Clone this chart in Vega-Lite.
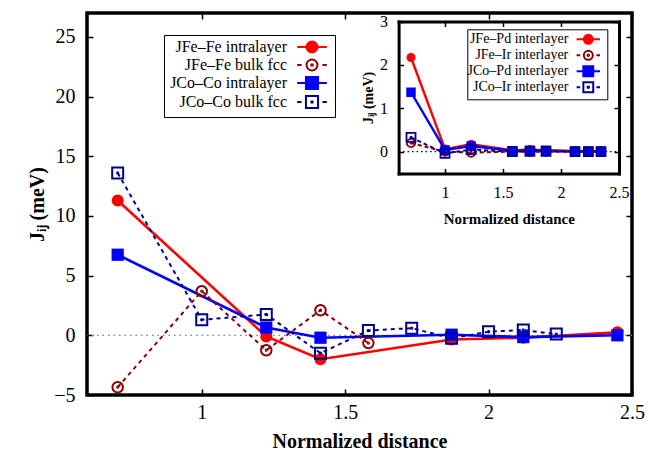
{
  "$schema": "https://vega.github.io/schema/vega-lite/v6.json",
  "width": 545,
  "height": 382,
  "autosize": "none",
  "padding": {"left": 87, "top": 13, "right": 17, "bottom": 59},
  "background": "white",
  "config": {
    "view": {"stroke": "black", "strokeWidth": 3.5},
    "font": "Liberation Serif",
    "axis": {
      "grid": false, "domain": false, "ticks": true, "tickColor": "black", "tickWidth": 1.5,
      "labelColor": "black", "titleColor": "black", "labelFont": "Liberation Serif", "titleFont": "Liberation Serif",
      "titleFontWeight": "bold", "labelFlush": false, "labelOverlap": false
    }
  },
  "datasets": {
    "main": [
      {"s": "JFe–Fe intralayer", "x": 0.707, "y": 11.3},
      {"s": "JFe–Fe intralayer", "x": 1.225, "y": -0.1},
      {"s": "JFe–Fe intralayer", "x": 1.414, "y": -2.0},
      {"s": "JFe–Fe intralayer", "x": 1.871, "y": -0.35},
      {"s": "JFe–Fe intralayer", "x": 2.121, "y": -0.2},
      {"s": "JFe–Fe intralayer", "x": 2.449, "y": 0.25},
      {"s": "JFe–Fe bulk fcc", "x": 0.707, "y": -4.35},
      {"s": "JFe–Fe bulk fcc", "x": 1.0, "y": 3.7},
      {"s": "JFe–Fe bulk fcc", "x": 1.225, "y": -1.25},
      {"s": "JFe–Fe bulk fcc", "x": 1.414, "y": 2.1},
      {"s": "JFe–Fe bulk fcc", "x": 1.581, "y": -0.65},
      {"s": "JCo–Co intralayer", "x": 0.707, "y": 6.75},
      {"s": "JCo–Co intralayer", "x": 1.225, "y": 0.65},
      {"s": "JCo–Co intralayer", "x": 1.414, "y": -0.2},
      {"s": "JCo–Co intralayer", "x": 1.871, "y": 0.05},
      {"s": "JCo–Co intralayer", "x": 2.121, "y": -0.15},
      {"s": "JCo–Co intralayer", "x": 2.449, "y": 0.0},
      {"s": "JCo–Co bulk fcc", "x": 0.707, "y": 13.6},
      {"s": "JCo–Co bulk fcc", "x": 1.0, "y": 1.3},
      {"s": "JCo–Co bulk fcc", "x": 1.225, "y": 1.75},
      {"s": "JCo–Co bulk fcc", "x": 1.414, "y": -1.5},
      {"s": "JCo–Co bulk fcc", "x": 1.581, "y": 0.4},
      {"s": "JCo–Co bulk fcc", "x": 1.732, "y": 0.6},
      {"s": "JCo–Co bulk fcc", "x": 1.871, "y": -0.25},
      {"s": "JCo–Co bulk fcc", "x": 2.0, "y": 0.3},
      {"s": "JCo–Co bulk fcc", "x": 2.121, "y": 0.45},
      {"s": "JCo–Co bulk fcc", "x": 2.236, "y": 0.1}
    ],
    "inset": [
      {"s": "JFe–Pd interlayer", "x": 0.707, "y": 2.17},
      {"s": "JFe–Pd interlayer", "x": 1.0, "y": 0.06},
      {"s": "JFe–Pd interlayer", "x": 1.225, "y": 0.17},
      {"s": "JFe–Pd interlayer", "x": 1.581, "y": 0.03},
      {"s": "JFe–Pd interlayer", "x": 1.732, "y": 0.05},
      {"s": "JFe–Pd interlayer", "x": 1.871, "y": 0.03},
      {"s": "JFe–Pd interlayer", "x": 2.121, "y": 0.01},
      {"s": "JFe–Pd interlayer", "x": 2.236, "y": 0.01},
      {"s": "JFe–Pd interlayer", "x": 2.345, "y": 0.01},
      {"s": "JFe–Ir interlayer", "x": 0.707, "y": 0.2},
      {"s": "JFe–Ir interlayer", "x": 1.0, "y": 0.0},
      {"s": "JFe–Ir interlayer", "x": 1.225, "y": -0.02},
      {"s": "JFe–Ir interlayer", "x": 1.581, "y": 0.0},
      {"s": "JFe–Ir interlayer", "x": 1.732, "y": 0.0},
      {"s": "JFe–Ir interlayer", "x": 1.871, "y": 0.0},
      {"s": "JFe–Ir interlayer", "x": 2.121, "y": 0.0},
      {"s": "JFe–Ir interlayer", "x": 2.236, "y": 0.0},
      {"s": "JFe–Ir interlayer", "x": 2.345, "y": 0.0},
      {"s": "JCo–Pd interlayer", "x": 0.707, "y": 1.37},
      {"s": "JCo–Pd interlayer", "x": 1.0, "y": 0.04},
      {"s": "JCo–Pd interlayer", "x": 1.225, "y": 0.13},
      {"s": "JCo–Pd interlayer", "x": 1.581, "y": 0.02},
      {"s": "JCo–Pd interlayer", "x": 1.732, "y": 0.03},
      {"s": "JCo–Pd interlayer", "x": 1.871, "y": 0.03},
      {"s": "JCo–Pd interlayer", "x": 2.121, "y": 0.01},
      {"s": "JCo–Pd interlayer", "x": 2.236, "y": 0.01},
      {"s": "JCo–Pd interlayer", "x": 2.345, "y": 0.01},
      {"s": "JCo–Ir interlayer", "x": 0.707, "y": 0.33},
      {"s": "JCo–Ir interlayer", "x": 1.0, "y": -0.04},
      {"s": "JCo–Ir interlayer", "x": 1.225, "y": 0.05},
      {"s": "JCo–Ir interlayer", "x": 1.581, "y": 0.0},
      {"s": "JCo–Ir interlayer", "x": 1.732, "y": 0.01},
      {"s": "JCo–Ir interlayer", "x": 1.871, "y": 0.01},
      {"s": "JCo–Ir interlayer", "x": 2.121, "y": 0.0},
      {"s": "JCo–Ir interlayer", "x": 2.236, "y": 0.0},
      {"s": "JCo–Ir interlayer", "x": 2.345, "y": 0.0}
    ]
  },
  "layer": [
    {
      "data": {"values": [{}]},
      "mark": {"type": "rule", "color": "#7f7f7f", "strokeDash": [1.5, 4], "strokeWidth": 1.3},
      "encoding": {"y": {"datum": 0, "type": "quantitative", "scale": {"domain": [-5, 27], "nice": false, "zero": false}, "axis": null}}
    },
    {
      "data": {"name": "main"},
      "transform": [{"filter": "indexof(datum.s, 'intralayer') >= 0"}],
      "mark": {"type": "line", "strokeWidth": 2.6},
      "encoding": {
        "x": {"field": "x", "type": "quantitative", "scale": {"domain": [0.6, 2.5], "nice": false, "zero": false},
          "axis": {"orient": "bottom", "values": [1, 1.5, 2, 2.5], "format": "~g", "tickSize": -6, "labelPadding": 13, "labelFont": "Liberation Serif", "labelFontSize": 20, "title": "Normalized distance", "titleFont": "Liberation Serif", "titleFontSize": 20, "titlePadding": 9}},
        "y": {"field": "y", "type": "quantitative", "scale": {"domain": [-5, 27], "nice": false, "zero": false},
          "axis": {"orient": "left", "values": [-5, 0, 5, 10, 15, 20, 25], "format": "~g", "tickSize": -6, "labelPadding": 18, "labelFont": "Liberation Serif", "labelFontSize": 20, "title": "Jᵢⱼ (meV)", "titleFont": "Liberation Serif", "titleFontSize": 20, "titlePadding": 6}},
        "color": {"field": "s", "type": "nominal",
          "scale": {"domain": ["JFe–Fe intralayer", "JFe–Fe bulk fcc", "JCo–Co intralayer", "JCo–Co bulk fcc"], "range": ["#ff0000", "#8b0000", "#0000ff", "#00008b"]},
          "legend": {
            "orient": "none", "legendX": 77, "legendY": 22, "title": null, "padding": 4,
            "strokeColor": "black", "fillColor": "white",
            "labelFont": "Liberation Serif", "labelFontSize": 16, "labelColor": "black",
            "labelAlign": "right", "labelBaseline": "middle", "labelOffset": -33, "labelLimit": 300,
            "symbolOffset": 136, "symbolSize": 121, "symbolStrokeWidth": 2, "rowPadding": -5.2,
            "encode": {
              "labels": {"update": {"align": {"value": "right"}}},
              "symbols": {
                "update": {
                  "shape": {"signal": "['M-2.7,0H2.7M-1,0A1,1 0 1,0 1,0A1,1 0 1,0 -1,0Z','M-2.7,0H-1.9M1.9,0H2.7M-1,0A1,1 0 1,0 1,0A1,1 0 1,0 -1,0ZM-0.15,0A0.15,0.15 0 1,0 0.15,0A0.15,0.15 0 1,0 -0.15,0Z','M-2.7,0H2.7M-1.1,-1.1H1.1V1.1H-1.1Z','M-2.7,0H-1.9M1.9,0H2.7M-1.1,-1.1H1.1V1.1H-1.1ZM-0.15,0A0.15,0.15 0 1,0 0.15,0A0.15,0.15 0 1,0 -0.15,0Z'][datum.index]"},
                  "fill": {"signal": "['#ff0000','transparent','#0000ff','transparent'][datum.index]"},
                  "stroke": {"signal": "['#ff0000','#8b0000','#0000ff','#00008b'][datum.index]"},
                  "opacity": {"value": 1}
                }
              }
            }
          }}
      }
    },
    {
      "data": {"name": "main"},
      "transform": [{"filter": "indexof(datum.s, 'bulk') >= 0"}],
      "mark": {"type": "line", "strokeWidth": 2, "strokeDash": [4, 4]},
      "encoding": {
        "x": {"field": "x", "type": "quantitative", "scale": {"domain": [0.6, 2.5], "nice": false, "zero": false}, "axis": null},
        "y": {"field": "y", "type": "quantitative", "scale": {"domain": [-5, 27], "nice": false, "zero": false}, "axis": null},
        "color": {"field": "s", "type": "nominal", "scale": {"domain": ["JFe–Fe bulk fcc", "JCo–Co bulk fcc"], "range": ["#8b0000", "#00008b"]}, "legend": null}
      }
    },
    {
      "data": {"name": "main"},
      "transform": [{"filter": "datum.s === 'JFe–Fe intralayer'"}],
      "mark": {"type": "point", "shape": "circle", "filled": true, "color": "#ff0000", "size": 144, "opacity": 1},
      "encoding": {
        "x": {"field": "x", "type": "quantitative", "scale": {"domain": [0.6, 2.5], "nice": false, "zero": false}, "axis": {"orient": "top", "values": [1, 1.5, 2, 2.5], "labels": false, "title": null, "tickSize": -6}},
        "y": {"field": "y", "type": "quantitative", "scale": {"domain": [-5, 27], "nice": false, "zero": false}, "axis": {"orient": "right", "values": [-5, 0, 5, 10, 15, 20, 25], "labels": false, "title": null, "tickSize": -6}}
      }
    },
    {
      "data": {"name": "main"},
      "transform": [{"filter": "datum.s === 'JFe–Fe bulk fcc'"}],
      "mark": {"type": "point", "shape": "M-1,0A1,1 0 1,0 1,0A1,1 0 1,0 -1,0ZM-0.12,0A0.12,0.12 0 1,0 0.12,0A0.12,0.12 0 1,0 -0.12,0Z", "filled": false, "color": "#8b0000", "size": 110, "strokeWidth": 2, "opacity": 1},
      "encoding": {
        "x": {"field": "x", "type": "quantitative", "scale": {"domain": [0.6, 2.5], "nice": false, "zero": false}, "axis": null},
        "y": {"field": "y", "type": "quantitative", "scale": {"domain": [-5, 27], "nice": false, "zero": false}, "axis": null}
      }
    },
    {
      "data": {"name": "main"},
      "transform": [{"filter": "datum.s === 'JCo–Co intralayer'"}],
      "mark": {"type": "point", "shape": "square", "filled": true, "color": "#0000ff", "size": 150, "opacity": 1},
      "encoding": {
        "x": {"field": "x", "type": "quantitative", "scale": {"domain": [0.6, 2.5], "nice": false, "zero": false}, "axis": null},
        "y": {"field": "y", "type": "quantitative", "scale": {"domain": [-5, 27], "nice": false, "zero": false}, "axis": null}
      }
    },
    {
      "data": {"name": "main"},
      "transform": [{"filter": "datum.s === 'JCo–Co bulk fcc'"}],
      "mark": {"type": "point", "shape": "M-1,-1H1V1H-1ZM-0.12,0A0.12,0.12 0 1,0 0.12,0A0.12,0.12 0 1,0 -0.12,0Z", "filled": false, "color": "#00008b", "size": 121, "strokeWidth": 2, "opacity": 1},
      "encoding": {
        "x": {"field": "x", "type": "quantitative", "scale": {"domain": [0.6, 2.5], "nice": false, "zero": false}, "axis": null},
        "y": {"field": "y", "type": "quantitative", "scale": {"domain": [-5, 27], "nice": false, "zero": false}, "axis": null}
      }
    },
    {
      "data": {"values": [{}]},
      "mark": {"type": "rule", "color": "black", "strokeDash": [1.5, 3], "strokeWidth": 1.2},
      "encoding": {
        "x": {"datum": 0.6, "type": "quantitative", "scale": {"domain": [0.6, 2.5], "nice": false, "zero": false, "range": [311.6, 532]}, "axis": null},
        "x2": {"datum": 2.5},
        "y": {"datum": 0, "type": "quantitative", "scale": {"domain": [-0.5, 3], "nice": false, "zero": false, "range": [160.4, 8.5]}, "axis": null}
      }
    },
    {
      "data": {"name": "inset"},
      "transform": [{"filter": "indexof(datum.s, 'Pd') >= 0"}],
      "mark": {"type": "line", "strokeWidth": 2.4},
      "encoding": {
        "x": {"field": "x", "type": "quantitative", "scale": {"domain": [0.6, 2.5], "nice": false, "zero": false, "range": [311.6, 532]},
          "axis": {"orient": "bottom", "offset": -221.6, "values": [1, 1.5, 2, 2.5], "format": "~g", "domain": true, "domainWidth": 3, "domainColor": "black", "domainCap": "square", "tickSize": -5, "labelPadding": 16, "labelFont": "Liberation Serif", "labelFontSize": 16, "title": "Normalized distance", "titleFont": "Liberation Serif", "titleFontSize": 15, "titlePadding": 11}},
        "y": {"field": "y", "type": "quantitative", "scale": {"domain": [-0.5, 3], "nice": false, "zero": false, "range": [160.4, 8.5]},
          "axis": {"orient": "left", "offset": -311.6, "values": [0, 1, 2, 3], "format": "~g", "domain": true, "domainWidth": 3, "domainColor": "black", "domainCap": "square", "tickSize": -5, "labelPadding": 16, "labelFont": "Liberation Serif", "labelFontSize": 16, "title": "Jᵢⱼ (meV)", "titleFont": "Liberation Serif", "titleFontSize": 14, "titlePadding": 4}},
        "color": {"field": "s", "type": "nominal",
          "scale": {"domain": ["JFe–Pd interlayer", "JFe–Ir interlayer", "JCo–Pd interlayer", "JCo–Ir interlayer"], "range": ["#ff0000", "#8b0000", "#0000ff", "#00008b"]},
          "legend": {
            "orient": "none", "legendX": 380.3, "legendY": 16.3, "title": null, "padding": 3,
            "strokeColor": "black", "fillColor": "white",
            "labelFont": "Liberation Serif", "labelFontSize": 14, "labelColor": "black",
            "labelAlign": "right", "labelBaseline": "middle", "labelOffset": -27, "labelLimit": 300,
            "symbolOffset": 111, "symbolSize": 81, "symbolStrokeWidth": 2, "rowPadding": -6.9,
            "encode": {
              "labels": {"update": {"align": {"value": "right"}}},
              "symbols": {
                "update": {
                  "shape": {"signal": "['M-2.6,0H2.6M-1,0A1,1 0 1,0 1,0A1,1 0 1,0 -1,0Z','M-2.6,0H-1.8M1.8,0H2.6M-1,0A1,1 0 1,0 1,0A1,1 0 1,0 -1,0ZM-0.18,0A0.18,0.18 0 1,0 0.18,0A0.18,0.18 0 1,0 -0.18,0Z','M-2.6,0H2.6M-1.1,-1.1H1.1V1.1H-1.1Z','M-2.6,0H-1.8M1.8,0H2.6M-1.1,-1.1H1.1V1.1H-1.1ZM-0.18,0A0.18,0.18 0 1,0 0.18,0A0.18,0.18 0 1,0 -0.18,0Z'][datum.index]"},
                  "fill": {"signal": "['#ff0000','transparent','#0000ff','transparent'][datum.index]"},
                  "stroke": {"signal": "['#ff0000','#8b0000','#0000ff','#00008b'][datum.index]"},
                  "opacity": {"value": 1}
                }
              }
            }
          }}
      }
    },
    {
      "data": {"name": "inset"},
      "transform": [{"filter": "indexof(datum.s, 'Ir') >= 0"}],
      "mark": {"type": "line", "strokeWidth": 2, "strokeDash": [4, 3]},
      "encoding": {
        "x": {"field": "x", "type": "quantitative", "scale": {"domain": [0.6, 2.5], "nice": false, "zero": false, "range": [311.6, 532]}, "axis": null},
        "y": {"field": "y", "type": "quantitative", "scale": {"domain": [-0.5, 3], "nice": false, "zero": false, "range": [160.4, 8.5]}, "axis": null},
        "color": {"field": "s", "type": "nominal", "scale": {"domain": ["JFe–Ir interlayer", "JCo–Ir interlayer"], "range": ["#8b0000", "#00008b"]}, "legend": null}
      }
    },
    {
      "data": {"name": "inset"},
      "transform": [{"filter": "datum.s === 'JFe–Pd interlayer'"}],
      "mark": {"type": "point", "shape": "circle", "filled": true, "color": "#ff0000", "size": 81, "opacity": 1},
      "encoding": {
        "x": {"field": "x", "type": "quantitative", "scale": {"domain": [0.6, 2.5], "nice": false, "zero": false, "range": [311.6, 532]}, "axis": {"orient": "top", "offset": -8.5, "values": [1, 1.5, 2, 2.5], "labels": false, "title": null, "domain": true, "domainWidth": 3, "domainColor": "black", "domainCap": "square", "tickSize": -5}},
        "y": {"field": "y", "type": "quantitative", "scale": {"domain": [-0.5, 3], "nice": false, "zero": false, "range": [160.4, 8.5]}, "axis": {"orient": "right", "offset": -13, "values": [0, 1, 2, 3], "labels": false, "title": null, "domain": true, "domainWidth": 3, "domainColor": "black", "domainCap": "square", "tickSize": -5}}
      }
    },
    {
      "data": {"name": "inset"},
      "transform": [{"filter": "datum.s === 'JFe–Ir interlayer'"}],
      "mark": {"type": "point", "shape": "M-1,0A1,1 0 1,0 1,0A1,1 0 1,0 -1,0ZM-0.15,0A0.15,0.15 0 1,0 0.15,0A0.15,0.15 0 1,0 -0.15,0Z", "filled": false, "color": "#8b0000", "size": 70, "strokeWidth": 1.8, "opacity": 1},
      "encoding": {
        "x": {"field": "x", "type": "quantitative", "scale": {"domain": [0.6, 2.5], "nice": false, "zero": false, "range": [311.6, 532]}, "axis": null},
        "y": {"field": "y", "type": "quantitative", "scale": {"domain": [-0.5, 3], "nice": false, "zero": false, "range": [160.4, 8.5]}, "axis": null}
      }
    },
    {
      "data": {"name": "inset"},
      "transform": [{"filter": "datum.s === 'JCo–Pd interlayer'"}],
      "mark": {"type": "point", "shape": "square", "filled": true, "color": "#0000ff", "size": 90, "opacity": 1},
      "encoding": {
        "x": {"field": "x", "type": "quantitative", "scale": {"domain": [0.6, 2.5], "nice": false, "zero": false, "range": [311.6, 532]}, "axis": null},
        "y": {"field": "y", "type": "quantitative", "scale": {"domain": [-0.5, 3], "nice": false, "zero": false, "range": [160.4, 8.5]}, "axis": null}
      }
    },
    {
      "data": {"name": "inset"},
      "transform": [{"filter": "datum.s === 'JCo–Ir interlayer'"}],
      "mark": {"type": "point", "shape": "M-1,-1H1V1H-1ZM-0.15,0A0.15,0.15 0 1,0 0.15,0A0.15,0.15 0 1,0 -0.15,0Z", "filled": false, "color": "#00008b", "size": 81, "strokeWidth": 1.8, "opacity": 1},
      "encoding": {
        "x": {"field": "x", "type": "quantitative", "scale": {"domain": [0.6, 2.5], "nice": false, "zero": false, "range": [311.6, 532]}, "axis": null},
        "y": {"field": "y", "type": "quantitative", "scale": {"domain": [-0.5, 3], "nice": false, "zero": false, "range": [160.4, 8.5]}, "axis": null}
      }
    }
  ],
  "resolve": {
    "scale": {"x": "independent", "y": "independent", "color": "independent"},
    "axis": {"x": "independent", "y": "independent"},
    "legend": {"color": "independent"}
  }
}
